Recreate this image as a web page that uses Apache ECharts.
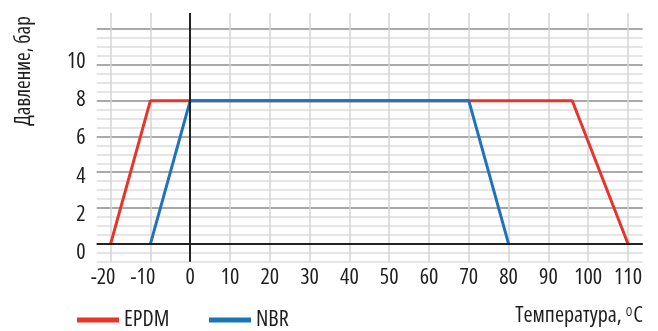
<!DOCTYPE html>
<html><head><meta charset="utf-8">
<script src="https://cdn.jsdelivr.net/npm/echarts@6/dist/echarts.min.js"></script>
<style>html,body{margin:0;padding:0;background:#fff}#c{width:658px;height:331px}</style>
</head><body><div id="c"></div>
<script>
const xTicks = [-20,-10,0,10,20,30,40,50,60,70,80,90,100,110];
const yTicks = [0,2,4,6,8,10];
const seriesNames = ['EPDM','NBR'];
const epdmTemp = [-20,-10,96,110];
const epdmPress = [0,8,8,0];
const nbrTemp = [-10,0,70,80];
const nbrPress = [0,8,8,0];
const yGridLines = [-1,-0.5,0,0.5,1,1.5,2,2.5,3,3.5,4,4.5,5,5.5,6,6.5,7,7.5,8,8.5,9,9.5,10,10.5,11,11.5,12];
const yTitle = 'Давление, бар';
const xTitle = 'Температура, ';

// pick a condensed font that is actually available
const ctx = document.createElement('canvas').getContext('2d');
const SAMPLE = 'EPDM 0123456789 Давление Температура';
function mw(f){ctx.font='22px monospace';ctx.font=f;return ctx.measureText(SAMPLE).width;}
const cands = [
  {style:'condensed', family:"'Open Sans'", size:22},
  {style:'condensed', family:"'Noto Sans'", size:22},
  {style:'normal', family:"'Liberation Sans Narrow'", size:22},
  {style:'normal', family:"'DejaVu Sans Condensed'", size:20}
];
let F = {style:'normal', family:"'DejaVu Sans Condensed'", size:20};
for (const c of cands) {
  if (c.style==='condensed') {
    const a = mw('22px '+c.family), b = mw('condensed 22px '+c.family), m = mw('22px monospace');
    if (a!==m && b < a*0.93) { F = c; break; }
  } else {
    const a = mw('22px '+c.family+', monospace'), m = mw('22px monospace');
    const s = mw('22px '+c.family+', serif'), sm = mw('22px serif');
    if (a!==m && s!==sm) { F = c; break; }
  }
}
const FS = F.size;
const fontOf = sz => F.style+' '+sz+'px '+F.family;

const chart = echarts.init(document.getElementById('c'));
const zip = (a,b)=>a.map((v,i)=>[v,b[i]]);
const txt = (sz)=>({fontStyle:F.style,fontFamily:F.family,fontSize:sz,color:'#1e1e1e'});
chart.setOption({
  animation:false,
  grid:{left:96.7,right:15.3,top:13,bottom:69.3,containLabel:false},
  xAxis:{type:'value',min:-23.5,max:113.7,
    axisLine:{show:false},
    axisTick:{show:false,customValues:xTicks},
    axisLabel:Object.assign(txt(FS),{customValues:xTicks,margin:5,
      formatter:v=> v<0 ? v+'\u2002 ' : String(v)}),
    splitLine:{show:true,lineStyle:{color:'#d4d4d4',width:1.5}}
  },
  yAxis:[{type:'value',min:-1,max:12.9,
    axisLine:{show:false},
    axisTick:{show:false,customValues:yGridLines},
    axisLabel:{show:false},
    splitLine:{show:true,showMinLine:true,lineStyle:{color:['#dcdcdc','#dcdcdc','#8c8c8c','#dcdcdc'],width:1.5}}
  },{type:'value',min:-0.455,max:12.546,position:'left',
    axisLine:{show:false},axisTick:{show:false,customValues:yTicks},
    splitLine:{show:false},
    axisLabel:Object.assign(txt(FS),{customValues:yTicks,margin:11})
  }],
  legend:[
    {left:77,top:309,padding:0,icon:'rect',itemWidth:42,itemHeight:5,data:[seriesNames[0]],textStyle:txt(FS)},
    {left:209,top:309,padding:0,icon:'rect',itemWidth:42,itemHeight:5,data:[seriesNames[1]],textStyle:txt(FS)}
  ],
  graphic:[
    {type:'text',x:24,y:71,rotation:Math.PI/2,
      style:{text:yTitle,font:fontOf(FS-1),fill:'#1e1e1e',align:'center',verticalAlign:'middle'}},
    {type:'text',x:643,y:316,
      style:{text:xTitle+'{s|O}C',font:fontOf(FS),fill:'#1e1e1e',align:'right',verticalAlign:'middle',
        rich:{s:{fontStyle:F.style,fontFamily:F.family,fontSize:Math.round(FS*0.55),fill:'#1e1e1e',verticalAlign:'top',padding:[2,1,0,0]}}}}
  ],
  series:[
    {type:'line',data:[],z:1,silent:true,
      markLine:{silent:true,symbol:'none',label:{show:false},
        lineStyle:{color:'#222',width:2,type:'solid'},
        data:[{xAxis:0},{yAxis:0}]}},
    {name:seriesNames[0],type:'line',data:zip(epdmTemp,epdmPress),showSymbol:false,symbol:'none',
      lineStyle:{color:'#e8352b',width:3},itemStyle:{color:'#e8352b'},z:3},
    {name:seriesNames[1],type:'line',data:zip(nbrTemp,nbrPress),showSymbol:false,symbol:'none',
      lineStyle:{color:'#1f72bd',width:3},itemStyle:{color:'#1a75b5'},z:4}
  ]
});
</script></body></html>
